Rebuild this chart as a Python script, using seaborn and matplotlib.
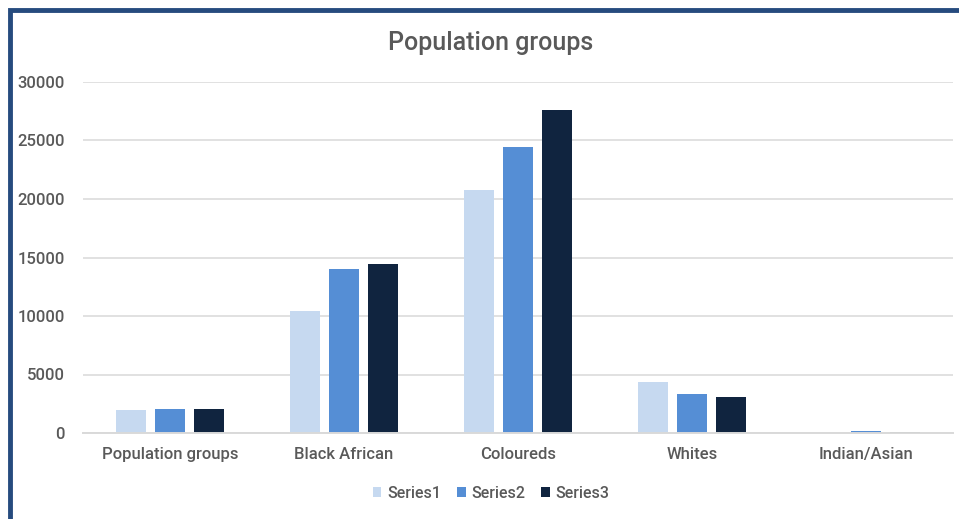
import matplotlib
matplotlib.use("Agg")
import matplotlib.pyplot as plt
import seaborn as sns
import pandas as pd
from matplotlib.patches import Rectangle

categories = ["Population groups", "Black African", "Coloureds", "Whites", "Indian/Asian"]
series_names = ["Series1", "Series2", "Series3"]
series1 = [2001, 10400, 20800, 4370, 0]
series2 = [2011, 14050, 24450, 3340, 180]
series3 = [2016, 14480, 27640, 3110, 100]
y_ticks = [0, 5000, 10000, 15000, 20000, 25000, 30000]
colors = ["#C6D9F0", "#558ED5", "#10243F"]

rows = []
for name, vals in zip(series_names, [series1, series2, series3]):
    for c, v in zip(categories, vals):
        rows.append({"category": c, "series": name, "value": v})
df = pd.DataFrame(rows)

sns.set_theme(style="white")
plt.rcParams["font.family"] = ["Roboto", "DejaVu Sans"]

W, H = 959, 519
fig = plt.figure(figsize=(W / 100, H / 100), dpi=100)
ax = fig.add_axes([83 / W, (H - 433) / H, 870 / W, 351 / H])

sns.barplot(data=df, x="category", y="value", hue="series", order=categories,
            hue_order=series_names, palette=colors, width=0.67, gap=0.23,
            saturation=1, ax=ax, legend=True, edgecolor="none")

ax.set_ylim(0, 30000)
ax.set_xlim(-0.5, len(categories) - 0.5)
ax.set_yticks(y_ticks)
ax.set_yticklabels([str(t) for t in y_ticks])
ax.yaxis.grid(True, color="#D9D9D9", linewidth=1.1)
ax.set_axisbelow(True)
for s in ["top", "right", "left"]:
    ax.spines[s].set_visible(False)
ax.spines["bottom"].set_color("#D9D9D9")
ax.spines["bottom"].set_linewidth(1.4)
ax.tick_params(axis="both", length=0, colors="#595959", labelsize=12)
ax.tick_params(axis="y", pad=13)
ax.tick_params(axis="x", pad=10)
for lbl in ax.get_xticklabels() + ax.get_yticklabels():
    lbl.set_fontweight("medium")
ax.set_xlabel("")
ax.set_ylabel("")

fig.text(491 / W, 1 - 43 / H, "Population groups", ha="center", va="center",
         fontsize=18, fontweight="medium", color="#595959")

handles, labels = ax.get_legend_handles_labels()
leg = ax.legend(handles, labels, loc="center", bbox_to_anchor=(491 / W, 1 - 493 / H),
                bbox_transform=fig.transFigure, ncol=3, frameon=False, fontsize=11.5,
                handlelength=0.55, handleheight=0.55, handletextpad=0.35,
                columnspacing=1.0, labelcolor="#595959")
for t in leg.get_texts():
    t.set_fontweight("medium")

fig.patches.append(Rectangle((10 / W, -0.05), 1.2, 1 - 10 / H + 0.05,
                             transform=fig.transFigure, fill=False,
                             edgecolor="#264B7E", linewidth=3.5))

fig.savefig("out.png", dpi=100, facecolor="white")
